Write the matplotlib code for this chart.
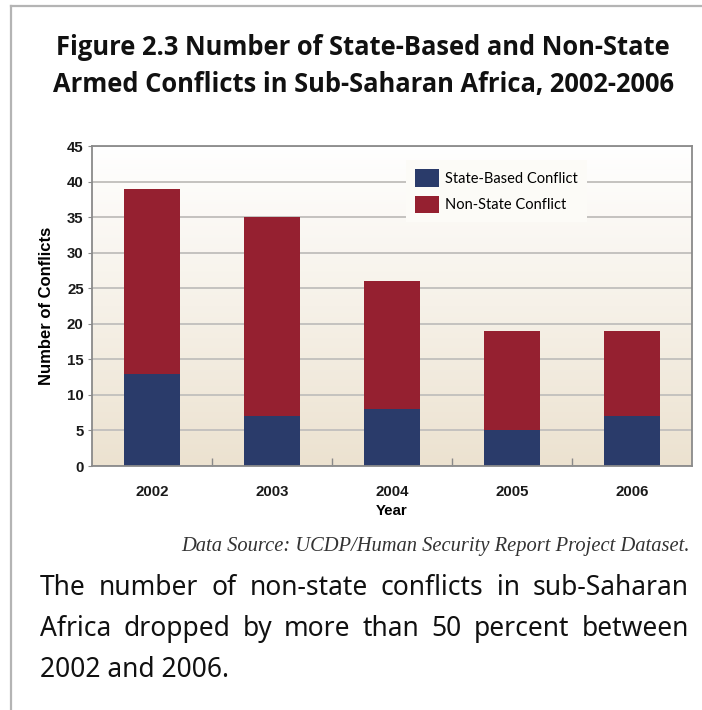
import matplotlib.pyplot as plt
import numpy as np
from matplotlib.lines import Line2D
from matplotlib.colors import LinearSegmentedColormap

years = ["2002", "2003", "2004", "2005", "2006"]
state_based = [13, 7, 8, 5, 7]
non_state = [26, 28, 18, 14, 12]

title_lines = [
    "Figure 2.3 Number of State-Based and Non-State",
    "Armed Conflicts in Sub-Saharan Africa, 2002-2006",
]
source_text = "Data Source: UCDP/Human Security Report Project Dataset."
caption_lines = [
    "The number of non-state conflicts in sub-Saharan",
    "Africa dropped by more than 50 percent between",
    "2002 and 2006.",
]

NAVY = "#2a3b6a"
RED = "#952030"
W, H = 702, 710

fig = plt.figure(figsize=(W / 100, H / 100), dpi=100)
fig.patch.set_facecolor("white")

# page frame: top and left rules
fig.add_artist(Line2D([11 / W, 1], [1 - 6 / H, 1 - 6 / H], color="#b4b4b4", lw=1.6))
fig.add_artist(Line2D([11 / W, 11 / W], [0, 1 - 6 / H], color="#b4b4b4", lw=1.6))

# title
for txt, base in zip(title_lines, [55, 92]):
    fig.text(363 / W, 1 - base / H, txt, ha="center", va="baseline",
             fontsize=18.4, fontweight="bold", family="Open Sans", color="#111111")

ax = fig.add_axes([92 / W, 1 - 466 / H, 600 / W, 320 / H])
x = np.arange(len(years))

# background gradient, white at the top to beige at the bottom
cmap = LinearSegmentedColormap.from_list("paper", ["#ffffff", "#f6f1e8", "#ece2d0"])
grad = np.linspace(0, 1, 256).reshape(-1, 1)
ax.imshow(grad, cmap=cmap, aspect="auto", extent=[-0.5, 4.5, 0, 45],
          origin="upper", zorder=0, interpolation="bicubic")

ax.set_xlim(-0.5, 4.5)
ax.set_ylim(0, 45)
ax.set_yticks(range(0, 46, 5))
ax.yaxis.grid(True, color="#c4c2bf", lw=1.4, zorder=1)
ax.set_axisbelow(False)

bw = 0.465
ax.bar(x, state_based, bw, color=NAVY, label="State-Based Conflict", zorder=3)
ax.bar(x, non_state, bw, bottom=state_based, color=RED,
       label="Non-State Conflict", zorder=3)

for s in ax.spines.values():
    s.set_color("#8a8a8a")
    s.set_linewidth(1.3)
    s.set_zorder(4)

ax.set_xticks(x)
ax.set_xticklabels(years)
ax.set_xticks(x[:-1] + 0.5, minor=True)
ax.tick_params(axis="x", which="major", length=0, pad=14)
ax.tick_params(axis="x", which="minor", direction="in", length=6,
               color="#8a8a8a", width=1)
ax.tick_params(axis="y", length=3, color="#8a8a8a", pad=3)
for lab in ax.get_xticklabels() + ax.get_yticklabels():
    lab.set_fontfamily("Liberation Sans")
    lab.set_fontweight("bold")
    lab.set_fontsize(10.8)
    lab.set_color("#1a1a1a")

ax.set_xlabel("Year", family="Liberation Sans", fontweight="bold",
              fontsize=10.8, labelpad=3)
ax.set_ylabel("Number of Conflicts", family="Liberation Sans",
              fontweight="bold", fontsize=12, labelpad=9)

leg = ax.legend(loc="upper left", bbox_to_anchor=(0.512, 0.978),
                prop={"family": "Lato", "size": 10.5},
                handlelength=1.65, handleheight=1.5, handletextpad=0.4,
                labelspacing=0.6, borderpad=0.6, frameon=True, fancybox=False)
leg.get_frame().set_facecolor("#fcfbf7")
leg.get_frame().set_edgecolor("none")
leg.get_frame().set_alpha(1)
leg.set_zorder(5)

fig.text(690 / W, 1 - 551 / H, source_text, ha="right", va="baseline",
         fontsize=14.8, style="italic", family="Liberation Serif", color="#333333")

# justified caption
fig.canvas.draw()
renderer = fig.canvas.get_renderer()
left_px, right_px = 40, 689
cap_kw = dict(fontsize=19, family="Noto Sans", color="#111111", va="baseline")
for i, (line, base) in enumerate(zip(caption_lines, [595, 636, 677])):
    words = line.split(" ")
    y = 1 - base / H
    if i == len(caption_lines) - 1:
        fig.text(left_px / W, y, line, ha="left", **cap_kw)
        continue
    widths = []
    for w in words:
        t = fig.text(0, 0, w, **cap_kw)
        widths.append(t.get_window_extent(renderer).width)
        t.remove()
    gap = (right_px - left_px - sum(widths)) / (len(words) - 1)
    pos = left_px
    for w, wd in zip(words, widths):
        fig.text(pos / W, y, w, ha="left", **cap_kw)
        pos += wd + gap

fig.savefig("out.png", dpi=100)
